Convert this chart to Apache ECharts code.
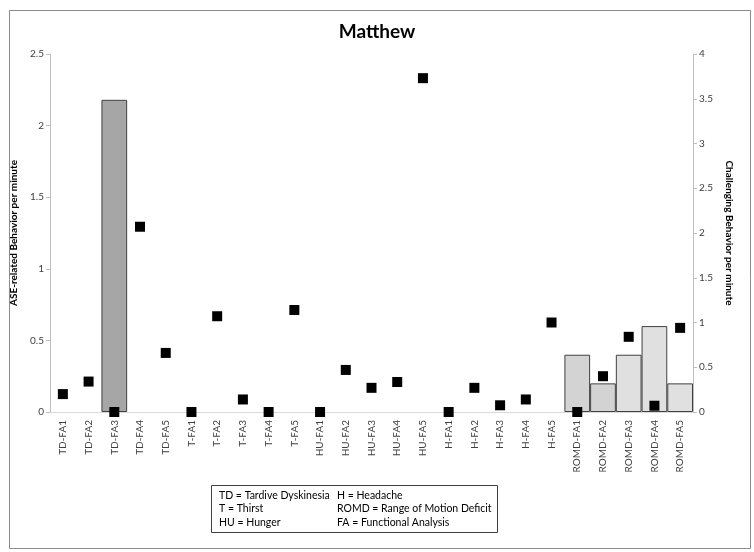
<!DOCTYPE html>
<html>
<head>
<meta charset="utf-8">
<script src="https://cdn.jsdelivr.net/npm/echarts@6/dist/echarts.min.js"></script>
<style>
html,body{margin:0;padding:0;background:#fff;}
#chart{width:754px;height:552px;}
</style>
</head>
<body>
<div id="chart"></div>
<script>
var categories = ['TD-FA1','TD-FA2','TD-FA3','TD-FA4','TD-FA5','T-FA1','T-FA2','T-FA3','T-FA4','T-FA5','HU-FA1','HU-FA2','HU-FA3','HU-FA4','HU-FA5','H-FA1','H-FA2','H-FA3','H-FA4','H-FA5','ROMD-FA1','ROMD-FA2','ROMD-FA3','ROMD-FA4','ROMD-FA5'];
var aseValues = [null,null,2.18,null,null,null,null,null,null,null,null,null,null,null,null,null,null,null,null,null,0.4,0.2,0.4,0.6,0.2];
var challengingValues = [0.20,0.34,0,2.07,0.66,0,1.07,0.14,0,1.14,0,0.47,0.27,0.335,3.73,0,0.27,0.075,0.14,1.00,0,0.40,0.84,0.07,0.94];
var leftTicks = {min:0, max:2.5, interval:0.5};
var rightTicks = {min:0, max:4, interval:0.5};
var legendLines = [
  ['TD = Tardive Dyskinesia','H = Headache'],
  ['T = Thirst','ROMD = Range of Motion Deficit'],
  ['HU = Hunger','FA = Functional Analysis']
];
var barColors = [null,null,'#a6a6a6',null,null,null,null,null,null,null,null,null,null,null,null,null,null,null,null,null,'#d3d3d3','#d3d3d3','#e0e0e0','#e0e0e0','#e0e0e0'];

var chart = echarts.init(document.getElementById('chart'));
var FONT = 'Lato, "Open Sans", sans-serif';

var barData = aseValues.map(function(v,i){
  return {value:v, itemStyle:{color: barColors[i] || '#d9d9d9'}};
});

var legendGraphics = [];
legendLines.forEach(function(pair,i){
  legendGraphics.push({type:'text', left:219, top:490+i*13.5, style:{text:pair[0], font:'10.5px '+FONT, fill:'#000'}});
  legendGraphics.push({type:'text', left:337, top:490+i*13.5, style:{text:pair[1], font:'10.5px '+FONT, fill:'#000'}});
});

var option = {
  animation:false,
  backgroundColor:'#fff',
  title:{text:'Matthew', left:'center', top:17, textStyle:{fontFamily:FONT, fontSize:19, fontWeight:'bold', color:'#000'}},
  grid:{left:50, right:61, top:54, bottom:140},
  xAxis:{
    type:'category', data:categories, boundaryGap:true,
    axisLine:{lineStyle:{color:'#d9d9d9'}},
    axisTick:{show:false},
    axisLabel:{rotate:90, interval:0, fontSize:10, color:'#404040', fontFamily:FONT, margin:8}
  },
  yAxis:[{
    type:'value', min:leftTicks.min, max:leftTicks.max, interval:leftTicks.interval,
    name:'ASE-related Behavior per minute', nameLocation:'middle', nameGap:25,
    nameTextStyle:{fontFamily:FONT, fontSize:10, fontWeight:'bold', color:'#000'},
    axisLine:{show:true, lineStyle:{color:'#bfbfbf'}},
    axisTick:{show:true, length:4, lineStyle:{color:'#bfbfbf'}},
    splitLine:{show:false},
    axisLabel:{fontSize:10, color:'#404040', fontFamily:FONT, margin:6}
  },{
    type:'value', position:'right', min:rightTicks.min, max:rightTicks.max, interval:rightTicks.interval,
    name:'Challenging Behavior per minute', nameLocation:'middle', nameGap:28, nameRotate:-90,
    nameTextStyle:{fontFamily:FONT, fontSize:10, fontWeight:'bold', color:'#000'},
    axisLine:{show:true, lineStyle:{color:'#bfbfbf'}},
    axisTick:{show:true, length:4, lineStyle:{color:'#bfbfbf'}},
    splitLine:{show:false},
    axisLabel:{fontSize:10, color:'#404040', fontFamily:FONT, margin:6}
  }],
  series:[{
    type:'bar', yAxisIndex:0, data:barData, barCategoryGap:'0%',
    itemStyle:{borderColor:'#404040', borderWidth:1}, z:2
  },{
    type:'scatter', yAxisIndex:1, data:challengingValues, symbol:'rect', symbolSize:10,
    itemStyle:{color:'#000', opacity:1}, z:5
  }],
  graphic:[
    {type:'rect', left:7, top:8, shape:{width:741, height:538}, style:{fill:'none', stroke:'#8c8c8c', lineWidth:1}, silent:true, z:-1},
    {type:'rect', left:211, top:485, shape:{width:286, height:47}, style:{fill:'#fff', stroke:'#404040', lineWidth:1}, z:10}
  ].concat(legendGraphics.map(function(g){g.z=11; return g;}))
};
chart.setOption(option);
</script>
</body>
</html>
